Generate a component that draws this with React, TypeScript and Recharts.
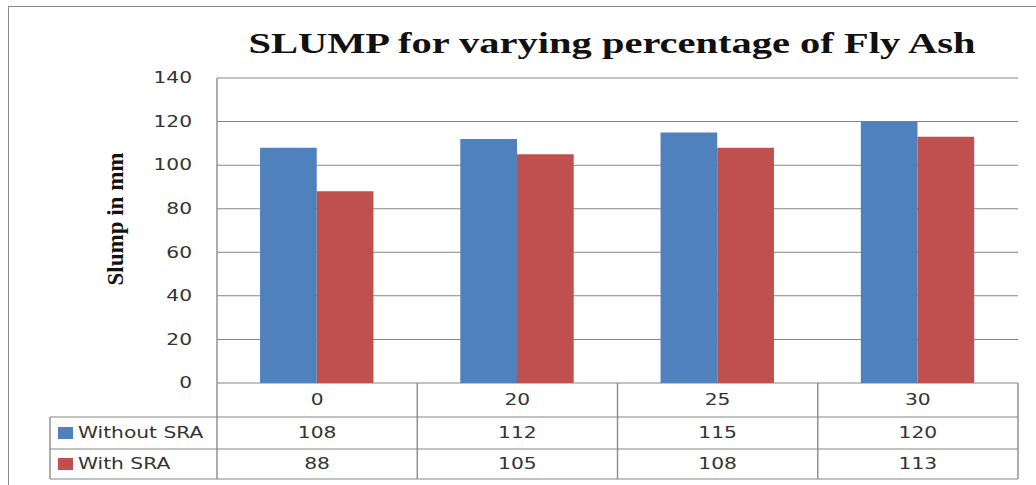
import { BarChart, Bar, XAxis, YAxis, CartesianGrid } from "recharts";

// Slump (mm) per fly ash percentage
const flyAsh = ["0", "20", "25", "30"];
const withoutSra = [108, 112, 115, 120];
const withSra = [88, 105, 108, 113];
const slumpTicks = [0, 20, 40, 60, 80, 100, 120, 140];

const series = [
  { key: "withoutSra", name: "Without SRA", color: "#4F81BD", values: withoutSra },
  { key: "withSra", name: "With SRA", color: "#C0504D", values: withSra },
];

const data = flyAsh.map((fa, i) => ({
  fa,
  withoutSra: withoutSra[i],
  withSra: withSra[i],
}));

// the chart is laid out narrow and then stretched sideways
const STRETCH = 1.35;
const WIDTH = 1036;
const HEIGHT = 485;
const px = (v: number) => v / STRETCH;

const PLOT_LEFT = 217;
const PLOT_RIGHT = 1018;
const PLOT_TOP = 78;
const PLOT_BOTTOM = 383;
const ROW_Y = [383, 417, 449, 479];
const TABLE_LEFT = 50;
const Y_AXIS_W = 60;

const GRID = "#868686";
const TEXT = "#333333";
const FONT = "'DejaVu Sans', Verdana, sans-serif";
const SERIF = "'Liberation Serif', 'Times New Roman', serif";

// data table under the plot, one column per category tick
function TableTick(props: any) {
  const { x, index, payload } = props;
  const band = px(PLOT_RIGHT - PLOT_LEFT) / flyAsh.length;
  const right = x + band / 2;
  const textProps = {
    textAnchor: "middle" as const,
    dominantBaseline: "central" as const,
    fontSize: 15,
    fontFamily: FONT,
    fill: TEXT,
  };
  return (
    <g>
      {index === 0 && (
        <g>
          {ROW_Y.slice(1).map((y) => (
            <line key={y} x1={px(TABLE_LEFT)} x2={px(PLOT_RIGHT)} y1={y} y2={y} stroke={GRID} />
          ))}
          <line x1={px(TABLE_LEFT)} x2={px(TABLE_LEFT)} y1={ROW_Y[1]} y2={ROW_Y[3]} stroke={GRID} />
          <line x1={px(PLOT_LEFT)} x2={px(PLOT_LEFT)} y1={ROW_Y[0]} y2={ROW_Y[3]} stroke={GRID} />
          {series.map((s, r) => {
            const cy = (ROW_Y[r + 1] + ROW_Y[r + 2]) / 2;
            return (
              <g key={s.key}>
                <rect x={px(58)} y={cy - 6} width={px(15)} height={12} fill={s.color} />
                <text
                  x={px(78)}
                  y={cy}
                  dominantBaseline="central"
                  fontSize={15}
                  fontFamily={FONT}
                  fill={TEXT}
                >
                  {s.name}
                </text>
              </g>
            );
          })}
        </g>
      )}
      <line x1={right} x2={right} y1={ROW_Y[0]} y2={ROW_Y[3]} stroke={GRID} />
      <text x={x} y={(ROW_Y[0] + ROW_Y[1]) / 2} {...textProps}>
        {payload.value}
      </text>
      {series.map((s, r) => (
        <text key={s.key} x={x} y={(ROW_Y[r + 1] + ROW_Y[r + 2]) / 2} {...textProps}>
          {s.values[index]}
        </text>
      ))}
    </g>
  );
}

export default function App() {
  return (
    <div
      style={{
        position: "absolute",
        left: 0,
        top: 0,
        width: WIDTH,
        height: HEIGHT,
        overflow: "hidden",
        background: "#fff",
      }}
    >
      <div style={{ transform: `scaleX(${STRETCH})`, transformOrigin: "0 0", width: px(WIDTH) }}>
        <BarChart
          width={px(WIDTH)}
          height={HEIGHT}
          data={data}
          margin={{
            top: PLOT_TOP,
            right: px(WIDTH - PLOT_RIGHT),
            bottom: 0,
            left: px(PLOT_LEFT) - Y_AXIS_W,
          }}
          barCategoryGap="21.5%"
          barGap={0}
        >
          <CartesianGrid vertical={false} stroke={GRID} />
          <XAxis
            dataKey="fa"
            height={HEIGHT - PLOT_BOTTOM}
            axisLine={false}
            tickLine={false}
            interval={0}
            tick={TableTick}
          />
          <YAxis
            width={Y_AXIS_W}
            domain={[0, 140]}
            ticks={slumpTicks}
            interval={0}
            axisLine={{ stroke: GRID }}
            tickLine={false}
            tickMargin={12.5}
            tick={{ fill: TEXT, fontSize: 15, fontFamily: FONT }}
          />
          {series.map((s) => (
            <Bar key={s.key} dataKey={s.key} name={s.name} fill={s.color} isAnimationActive={false} />
          ))}
        </BarChart>
      </div>
      <svg
        width={WIDTH}
        height={HEIGHT}
        style={{ position: "absolute", left: 0, top: 0, pointerEvents: "none" }}
      >
        <line x1={8} x2={WIDTH} y1={6.5} y2={6.5} stroke="#8a8a8a" />
        <line x1={8.5} x2={8.5} y1={6} y2={HEIGHT} stroke="#8a8a8a" />
        <text
          transform={`translate(612,53) scale(${STRETCH},1)`}
          textAnchor="middle"
          fontSize={30}
          fontWeight="bold"
          fontFamily={SERIF}
          fill="#111"
        >
          SLUMP for varying percentage of Fly Ash
        </text>
        <text
          transform="translate(123,219) rotate(-90)"
          textAnchor="middle"
          fontSize={23}
          fontWeight="bold"
          fontFamily={SERIF}
          fill="#111"
        >
          Slump in mm
        </text>
      </svg>
    </div>
  );
}
